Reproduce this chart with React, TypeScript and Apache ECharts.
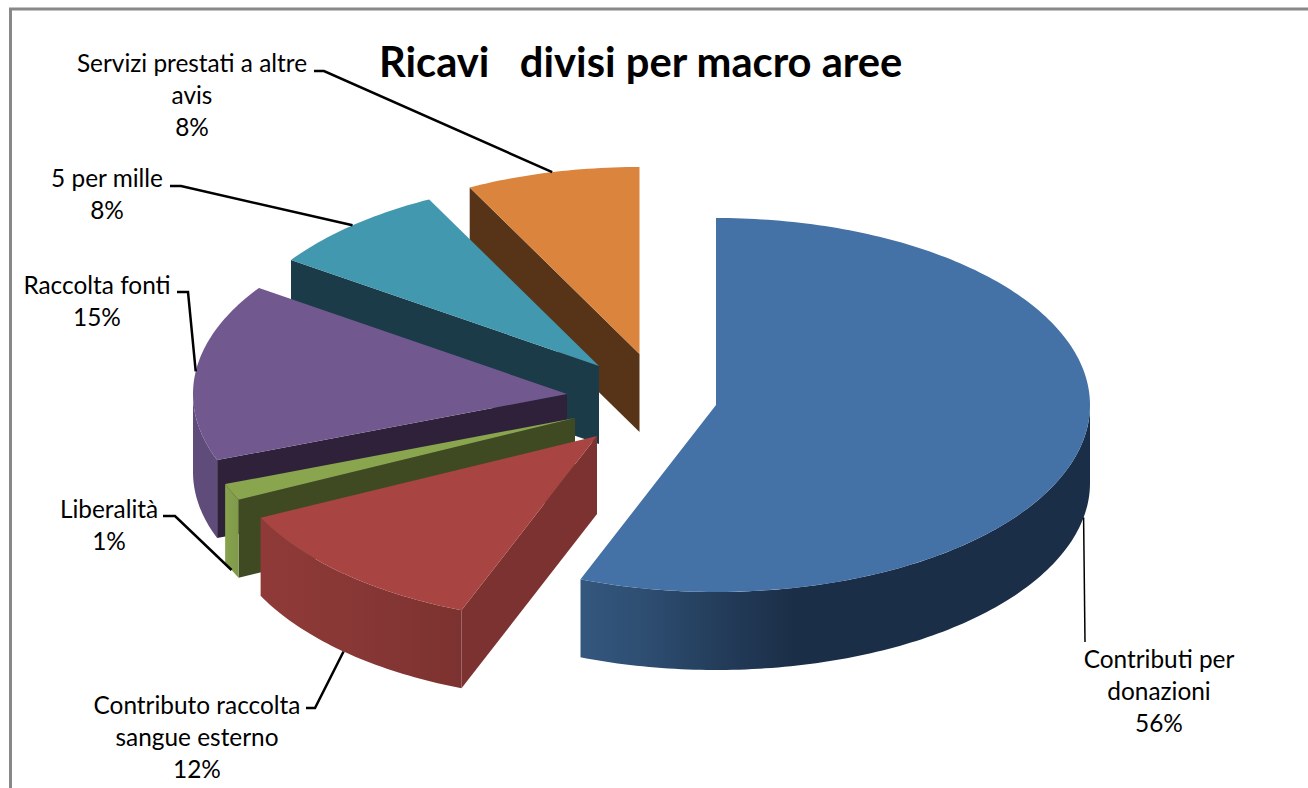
import React, { useEffect, useRef } from "react";
import * as echarts from "echarts";

// ---- data ----
const titleText = "Ricavi   divisi per macro aree";
const categories = [
  "Contributi per\ndonazioni",
  "Contributo raccolta\nsangue esterno",
  "Liberalità",
  "Raccolta fonti",
  "5 per mille",
  "Servizi prestati a altre\navis",
];
const values = [55.9, 11.9, 1.45, 15.35, 7.9, 7.5];

// ---- styles ----
const topColors = ["#4471a6", "#a84441", "#89a54e", "#71588f", "#4198af", "#db843d"];
const cutColors = ["#1b2e47", "#7c3230", "#3f4a22", "#2f2139", "#1b3b48", "#573418"];
const rimStops: [number, string][][] = [
  [[0, "#1b2e47"], [0.58, "#1b2e47"], [0.75, "#253f5e"], [0.88, "#2e4e72"], [1, "#34577e"]],
  [[0, "#7c3230"], [0.5, "#873735"], [1, "#8f3a38"]],
  [[0, "#7f994a"], [1, "#87a34d"]],
  [[0, "#5f4c7b"], [1, "#5f4c7b"]],
  [[0, "#1b3b48"], [1, "#1b3b48"]],
  [[0, "#8c5a2c"], [1, "#8c5a2c"]],
];

// ---- layout ----
const RX = 374;
const RY = 187;
const DEPTH = 78;
const centres = [[716, 405], [597, 436], [575, 418], [567, 394], [599, 366], [639.5, 354]];
const elbows = [
  [[1085, 642]],
  [[306, 708], [315, 708]],
  [[163, 516], [175, 516]],
  [[177, 292], [188, 292]],
  [[170, 186], [181, 186]],
  [[314, 71], [324, 71]],
];
const labelPos = [[1159, 690], [197, 736], [109, 524], [97, 300], [107, 193], [192, 94]];
const FONT = "Lato, Carlito, sans-serif";

const total = values.reduce((a, b) => a + b, 0);
const rad = (d: number) => (d * Math.PI) / 180;

function renderItem(params: any, api: any) {
  const i = params.dataIndex;
  const v = api.value(0);
  let prior = 0;
  for (let k = 0; k < i; k++) prior += values[k];
  const a0 = (prior / total) * 360;
  const a1 = a0 + (v / total) * 360;
  const [cx, cy] = centres[i];
  const pt = (a: number, dy = 0) => [cx + RX * Math.sin(rad(a)), cy - RY * Math.cos(rad(a)) + dy];
  const arc = (from: number, to: number, dy = 0) => {
    const out: number[][] = [];
    const n = Math.max(2, Math.ceil(to - from));
    for (let s = 0; s <= n; s++) out.push(pt(from + ((to - from) * s) / n, dy));
    return out;
  };
  const base = (n: number) => (values.length - i) * 10 + n;
  const children: any[] = [];

  // cut face at the slice's start
  if (a0 > 180 && a0 < 360) {
    const p = pt(a0);
    children.push({
      type: "polygon",
      z2: base(0),
      shape: { points: [[cx, cy], p, [p[0], p[1] + DEPTH], [cx, cy + DEPTH]] },
      style: { fill: cutColors[i] },
    });
  }
  // outer rim, front half only
  const r0 = Math.max(a0, 90);
  const r1 = Math.min(a1, 270);
  if (r1 > r0) {
    const topEdge = arc(r0, r1);
    const bottomEdge = arc(r0, r1, DEPTH).reverse();
    const stops = rimStops[i].map(([offset, color]) => ({ offset, color }));
    children.push({
      type: "polygon",
      z2: base(1),
      shape: { points: [...topEdge, ...bottomEdge] },
      style: {
        fill: new echarts.graphic.LinearGradient(1, 0, 0, 0, stops),
      },
    });
  }
  // top face
  children.push({
    type: "polygon",
    z2: base(2),
    shape: { points: [[cx, cy], ...arc(a0, a1)] },
    style: { fill: topColors[i] },
  });

  // leader line, anchored at the slice's middle angle
  const mid = (a0 + a1) / 2;
  const isFront = mid > 90 && mid < 270;
  const anchor = pt(mid, isFront ? DEPTH : 0);
  children.push({
    type: "polyline",
    z2: 200,
    shape: { points: [...elbows[i], anchor] },
    style: { fill: "none", stroke: "#000", lineWidth: i === 0 ? 1.5 : 2.5 },
  });

  // label
  const pct = Math.round((v / total) * 100);
  children.push({
    type: "text",
    z2: 200,
    x: labelPos[i][0],
    y: labelPos[i][1],
    style: {
      text: `${categories[i]}\n${pct}%`,
      font: `400 24.4px ${FONT}`,
      fill: "#000",
      align: "center",
      verticalAlign: "middle",
      lineHeight: 32,
    },
  });
  return { type: "group", children };
}

export default function App() {
  const ref = useRef<HTMLDivElement>(null);
  useEffect(() => {
    document.body.style.margin = "0";
    const chart = echarts.init(ref.current!, undefined, { renderer: "svg" });
    chart.setOption({
      animation: false,
      backgroundColor: "#fff",
      title: {
        text: titleText,
        left: 374,
        top: 35,
        textStyle: { fontFamily: FONT, fontWeight: 700, fontSize: 41.7, color: "#000" },
      },
      graphic: [
        {
          type: "polyline",
          shape: { points: [[10.5, 788], [10.5, 9], [1308, 9]] },
          style: { fill: "none", stroke: "#888888", lineWidth: 3 },
          silent: true,
        },
      ],
      series: [
        {
          type: "custom",
          coordinateSystem: "none",
          renderItem,
          silent: true,
          data: values.map((v, i) => ({ name: categories[i], value: v })),
        },
      ],
    });
    return () => chart.dispose();
  }, []);
  return <div ref={ref} style={{ width: 1308, height: 788 }} />;
}
